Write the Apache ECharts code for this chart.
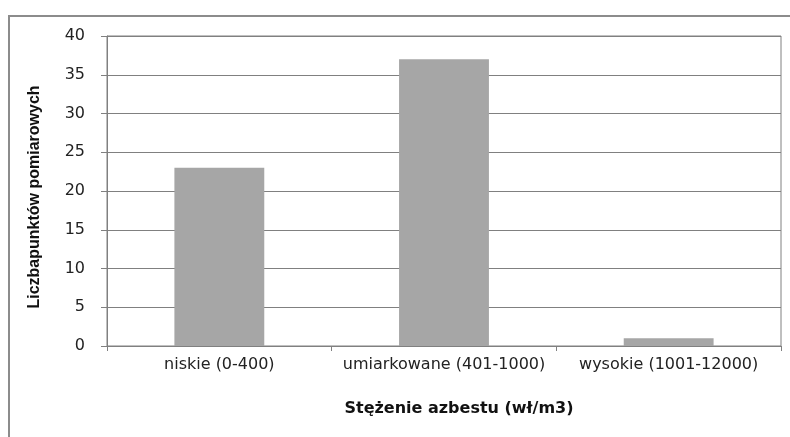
<!DOCTYPE html>
<html>
<head>
<meta charset="utf-8">
<script src="https://cdn.jsdelivr.net/npm/echarts@6/dist/echarts.min.js"></script>
<style>html,body{margin:0;padding:0;background:#fff}#c{width:790px;height:437px}</style>
</head>
<body>
<div id="c"></div>
<script>
var categories = ['niskie (0-400)', 'umiarkowane (401-1000)', 'wysokie (1001-12000)'];
var values = [23, 37, 1];
var yTicks = [0, 5, 10, 15, 20, 25, 30, 35, 40];
var xTitle = 'Stężenie azbestu (wł/m3)';
var yTitle = 'Liczbapunktów pomiarowych';

var chart = echarts.init(document.getElementById('c'), null, {renderer: 'canvas'});
chart.setOption({
  animation: false,
  backgroundColor: '#fff',
  graphic: [
    {type: 'polyline', shape: {points: [[9, 437], [9, 16], [790, 16]]},
     style: {stroke: '#8c8c8c', lineWidth: 2, fill: null}, silent: true}
  ],
  grid: {left: 107, right: 9, top: 36, bottom: 91, show: true, borderColor: '#808080', borderWidth: 1},
  xAxis: {
    type: 'category',
    data: categories,
    name: xTitle,
    nameLocation: 'middle',
    nameGap: 55,
    nameTextStyle: {fontFamily: 'DejaVu Sans', fontWeight: 'bold', fontSize: 16, color: '#111', padding: [0, 0, 0, 30]},
    axisLine: {lineStyle: {color: '#808080', width: 1}},
    axisTick: {show: true, alignWithLabel: false, length: 5, lineStyle: {color: '#808080'}},
    axisLabel: {fontFamily: 'DejaVu Sans', fontSize: 16, color: '#222', margin: 11, interval: 0}
  },
  yAxis: {
    type: 'value',
    min: 0, max: 40, interval: 5,
    name: yTitle,
    nameLocation: 'middle',
    nameGap: 64,
    nameTextStyle: {fontFamily: 'Liberation Sans', fontWeight: 'bold', fontSize: 16, color: '#111', padding: [0, 12, 0, 0]},
    axisLine: {show: true, lineStyle: {color: '#808080', width: 1}},
    axisTick: {show: true, length: 6, lineStyle: {color: '#808080'}},
    splitLine: {lineStyle: {color: '#808080', width: 1}},
    axisLabel: {fontFamily: 'DejaVu Sans', fontSize: 16, color: '#222', margin: 22,
      formatter: function (v) { return yTicks.indexOf(v) >= 0 ? String(v) : ''; }}
  },
  series: [{
    type: 'bar',
    data: values,
    barCategoryGap: '60%',
    itemStyle: {color: '#a6a6a6'}
  }]
});
</script>
</body>
</html>
